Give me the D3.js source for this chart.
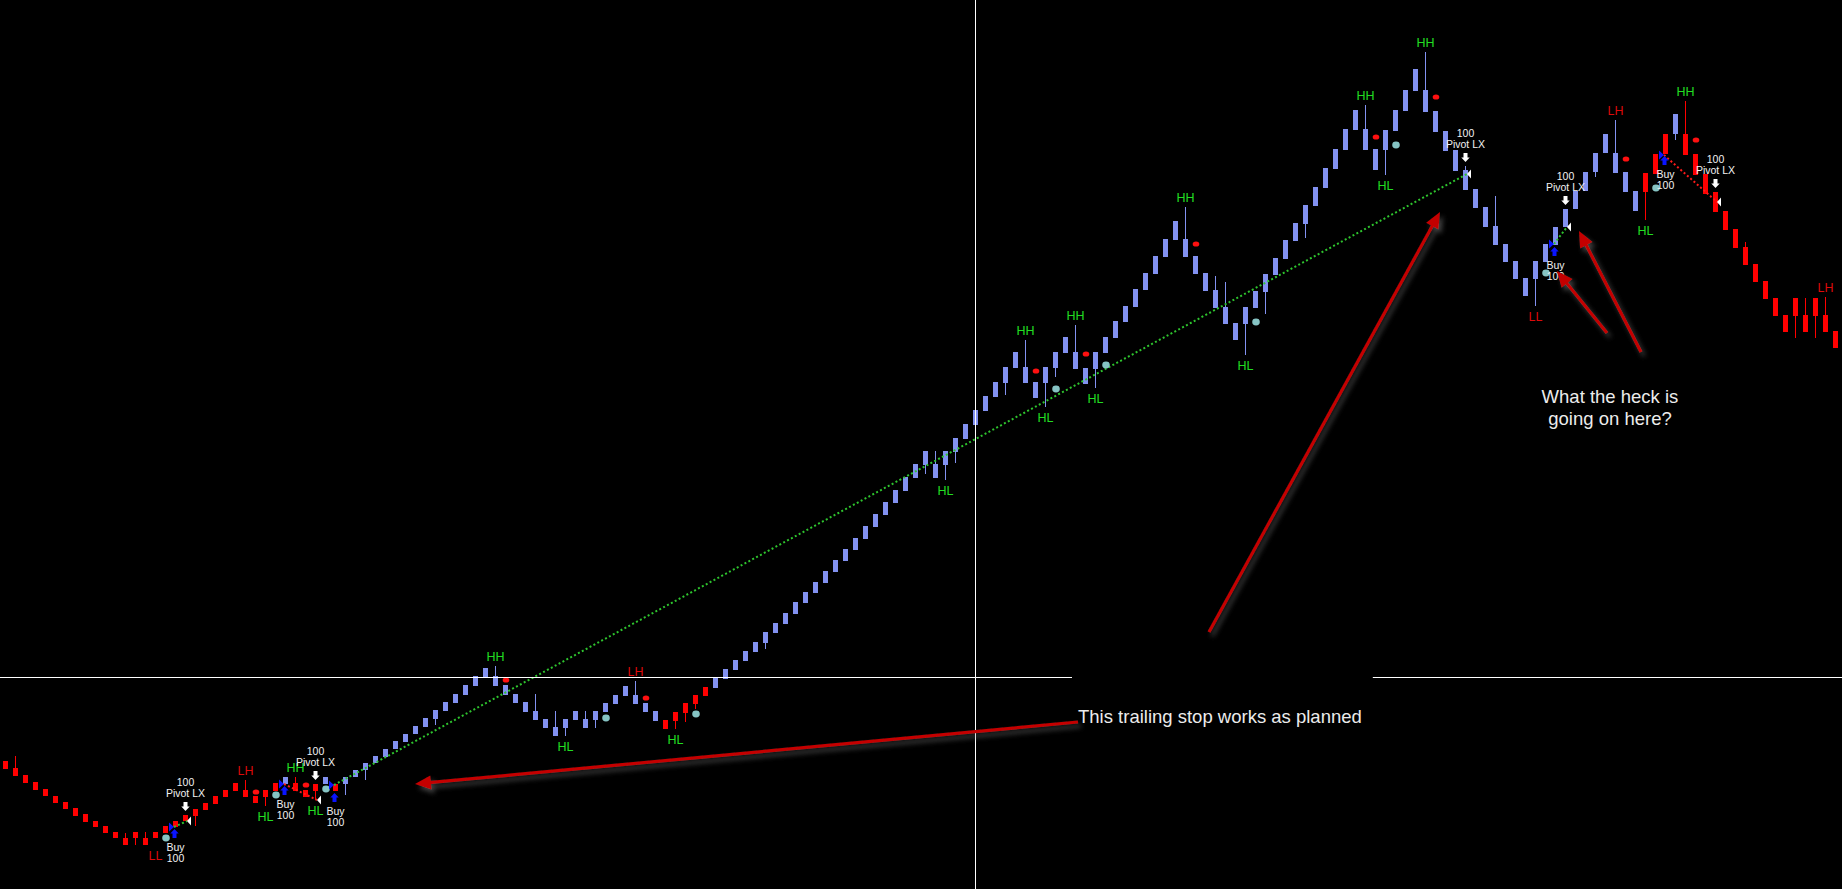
<!DOCTYPE html>
<html><head><meta charset="utf-8">
<script src="https://cdn.jsdelivr.net/npm/d3@7"></script>
<style>
html,body{margin:0;padding:0;background:#000;overflow:hidden}
svg{display:block}
text{font-family:"Liberation Sans",Arial,sans-serif}
</style></head><body>
<svg id="chart" width="1842" height="889"></svg>
<script>
// ---------------- DATA (price units) ----------------
const bodyTop = [239,232,225,218,211,204,198,192,186,179,
174,168,162,168,162,168,174,179,185,191,
197,204,210,217,210,204,210,217,223,217,
210,216,223,216,223,230,237,244,251,259,
266,274,282,290,298,306,315,324,332,324,
315,306,298,289,281,273,281,289,281,289,
297,305,314,305,297,289,280,288,297,305,
313,322,331,340,349,358,368,377,387,398,
408,418,429,440,451,462,474,486,498,510,
523,536,549,536,549,562,576,590,604,618,
633,648,633,618,633,648,663,648,632,648,
663,679,694,711,727,744,761,779,761,744,
727,710,693,677,693,709,726,742,760,777,
795,813,832,851,871,890,871,851,870,890,
910,931,910,889,869,850,830,811,793,774,
756,739,722,739,756,773,791,809,828,847,
866,847,828,809,827,846,866,886,866,846,
826,808,789,771,753,736,719,702,685,702,
685,702,685,669];
const bodyBottom = [231,224,217,210,204,197,191,184,178,173,
167,162,155,162,155,162,167,173,179,184,
190,196,203,209,203,197,203,209,216,209,
203,209,216,209,216,223,230,237,243,251,
258,266,273,281,289,297,305,314,323,314,
305,297,288,280,272,264,272,280,272,280,
288,296,304,296,288,279,271,279,287,296,
304,312,321,330,339,348,357,367,376,386,
397,407,417,428,439,450,461,473,485,497,
509,522,535,522,535,548,561,575,589,603,
617,632,617,602,617,632,647,631,616,631,
647,662,678,693,710,726,743,760,743,726,
709,692,676,660,676,692,708,725,741,759,
776,794,812,831,850,870,850,830,850,869,
889,909,888,868,849,829,810,792,773,755,
738,721,704,721,738,755,773,791,809,828,
847,827,808,789,808,826,846,866,845,825,
806,788,770,752,735,718,701,684,668,684,
668,684,668,652];
// upper wicks [bar, high], lower wicks [bar, low]
const upperWicks = [[1,244],[12,167],[14,168],[24,220],[29,223],[49,334],[53,306],[55,289],[58,289],[63,319],
[93,549],[102,660],[107,675],[118,793],[121,724],[122,718],[136,895],[142,948],[146,834],[149,804],
[161,880],[168,899],[174,758],[180,702],[182,703]];
const lowerWicks = [[13,155],[19,174],[26,194],[31,200],[34,205],[36,220],[43,275],[56,264],[59,272],[67,271],
[68,278],[69,291],[76,351],[92,526],[94,520],[95,537],[100,605],[104,593],[105,623],[109,612],
[124,645],[126,686],[130,762],[138,825],[153,694],[159,823],[164,780],[167,860],[179,662],[181,662]];
// trend state runs (colour of bars)
const trendRuns = [["down",28],["up",1],["down",3],["up",1],["down",1],["up",32],["down",5],["up",93],["down",3],["up",1],["down",16]];
// swing labels [bar, text, pivot price]
const swingLabels = [[15,"LL",155],[24,"LH",220],[26,"HL",194],[29,"HH",223],[31,"HL",200],[49,"HH",334],[56,"HL",264],
[63,"LH",319],[67,"HL",271],[94,"HL",520],[102,"HH",660],[104,"HL",593],[107,"HH",675],[109,"HL",612],
[118,"HH",793],[124,"HL",645],[136,"HH",895],[138,"HL",825],[142,"HH",948],[153,"LL",694],[161,"LH",880],
[164,"HL",780],[168,"HH",899],[182,"LH",703]];
// pivot dots
const pivotHighDots = [[25,208],[30,215],[50,320],[64,302],[103,629],[108,646],[119,756],[137,863],[143,903],[162,841],[169,860]];
const pivotLowDots = [[16,162],[27,205],[32,211],[60,282],[69,286],[105,611],[110,635],[125,678],[139,855],[154,727],[165,812]];
// trades: entry [bar, price], exit [bar, price]
const entries = [[17,173],[28,216],[33,215],[155,756],[166,845]];
const exits = [[18,179],[31,200],[146,826],[156,773],[171,798]];
const entryLabel = ["Buy","100"];
const exitLabel = ["100","Pivot LX"];
// crosshair (bar, price)
const crossBar = 96.95, crossPrice = 323;
// annotations (bar, price)
const annotArrows = [
  {from:[107.25,278], to:[40.95,216]},
  {from:[120.35,368], to:[143.45,788]},
  {from:[160.15,667], to:[155.15,729]},
  {from:[163.55,648], to:[157.35,769]}
];
const annotTexts = [
  {bar:107.25, price:277, lines:["This trailing stop works as planned"], anchor:"start", box:true},
  {bar:160.45, price:597, lines:["What the heck is","going on here?"], anchor:"middle", box:false}
];

// ---------------- DRAW ----------------
const W = 1842, H = 889;
const svg = d3.select("#chart");
svg.append("rect").attr("width", W).attr("height", H).attr("fill", "#000");

const x = d3.scaleLinear().domain([0, 183]).range([5.5, 1835.5]);
const y = d3.scaleLinear().domain([111, 1000]).range([889, 0]);

const trend = [];
trendRuns.forEach(([t, n]) => { for (let k = 0; k < n; k++) trend.push(t); });
const upMap = new Map(upperWicks), loMap = new Map(lowerWicks);
const bars = bodyTop.map((t, i) => ({
  i, top: t, bot: bodyBottom[i],
  hi: upMap.has(i) ? upMap.get(i) : t,
  lo: loMap.has(i) ? loMap.get(i) : bodyBottom[i],
  trend: trend[i]
}));
const colUp = "#8291f0", colDown = "#ff0000";
const col = d => d.trend === "up" ? colUp : colDown;

const defs = svg.append("defs");
const f = defs.append("filter").attr("id", "shadow").attr("x", "-20%").attr("y", "-20%").attr("width", "140%").attr("height", "140%");
f.append("feDropShadow").attr("dx", 3).attr("dy", 4).attr("stdDeviation", 2.5).attr("flood-color", "#777").attr("flood-opacity", 0.55);

const gBars = svg.append("g");
gBars.selectAll("line.wick").data(bars.filter(d => d.hi !== d.top || d.lo !== d.bot)).join("line")
  .attr("class", "wick")
  .attr("x1", d => x(d.i)).attr("x2", d => x(d.i))
  .attr("y1", d => y(d.hi)).attr("y2", d => y(d.lo))
  .attr("stroke", col).attr("stroke-width", 1);
gBars.selectAll("rect.body").data(bars).join("rect")
  .attr("class", "body")
  .attr("x", d => x(d.i) - 2.5).attr("width", 5)
  .attr("y", d => y(d.top)).attr("height", d => y(d.bot) - y(d.top))
  .attr("fill", col);

// trade lines
const gTrades = svg.append("g");
entries.forEach((e, k) => {
  const ex = exits[k];
  const win = ex[1] > e[1];
  gTrades.append("line")
    .attr("x1", x(e[0]) - 1.5).attr("y1", y(e[1]))
    .attr("x2", x(ex[0]) + 1.5).attr("y2", y(ex[1]))
    .attr("stroke", win ? "#2ec42e" : "#ff1a1a")
    .attr("stroke-width", 2).attr("stroke-dasharray", "2 2.4");
});

// pivot dots
svg.append("g").selectAll("ellipse").data(pivotHighDots).join("ellipse")
  .attr("cx", d => x(d[0]) + 0.5).attr("cy", d => y(d[1]))
  .attr("rx", 3.3).attr("ry", 2.6).attr("fill", "#ff1010");
svg.append("g").selectAll("ellipse").data(pivotLowDots).join("ellipse")
  .attr("cx", d => x(d[0]) + 0.5).attr("cy", d => y(d[1]))
  .attr("rx", 3.8).attr("ry", 3.4).attr("fill", "#86c4c4");

// swing labels
svg.append("g").selectAll("text").data(swingLabels).join("text")
  .attr("x", d => x(d[0])).attr("y", d => y(d[2]) + (d[1][1] === "H" ? -10 : 10))
  .attr("dy", "0.36em").attr("text-anchor", "middle")
  .attr("font-size", 12.5)
  .attr("fill", d => (d[1] === "HH" || d[1] === "HL") ? "#22dd22" : "#dd0a0a")
  .text(d => d[1]);

// entries
const gM = svg.append("g");
entries.forEach(e => {
  const b = bars[e[0]];
  const cx = x(e[0]), py = y(e[1]);
  gM.append("path").attr("d", `M${cx-6.5},${py-4.5}L${cx-1.5},${py}L${cx-6.5},${py+4.5}Z`).attr("fill", "#0a14ff");
  const top = y(b.lo) + 2, ax = cx - 1;
  gM.append("path").attr("d",
    `M${ax},${top}L${ax+4.2},${top+4.5}L${ax+2},${top+4.5}L${ax+2},${top+9}L${ax-2},${top+9}L${ax-2},${top+4.5}L${ax-4.2},${top+4.5}Z`)
    .attr("fill", "#0a14ff");
  entryLabel.forEach((t, k) => {
    gM.append("text").attr("x", cx).attr("y", y(b.lo) + 20 + k * 11.5).attr("dy", "0.36em")
      .attr("text-anchor", "middle").attr("font-size", 10.5).attr("fill", "#f2f2f2").text(t);
  });
});
// exits
exits.forEach(e => {
  const b = bars[e[0]];
  const cx = x(e[0]), py = y(e[1]);
  gM.append("path").attr("d", `M${cx+1.5},${py}L${cx+5.5},${py-4.5}L${cx+5.5},${py+4.5}Z`).attr("fill", "#ffffff");
  const bot = y(b.hi) - 4;
  gM.append("path").attr("d",
    `M${cx},${bot}L${cx+4.2},${bot-4.5}L${cx+2},${bot-4.5}L${cx+2},${bot-9}L${cx-2},${bot-9}L${cx-2},${bot-4.5}L${cx-4.2},${bot-4.5}Z`)
    .attr("fill", "#ffffff");
  exitLabel.forEach((t, k) => {
    gM.append("text").attr("x", cx).attr("y", y(b.hi) - 33 + k * 11).attr("dy", "0.36em")
      .attr("text-anchor", "middle").attr("font-size", 10.5).attr("fill", "#f2f2f2").text(t);
  });
});

// crosshair
svg.append("line").attr("x1", 0).attr("x2", W).attr("y1", Math.round(y(crossPrice)) + 0.5).attr("y2", Math.round(y(crossPrice)) + 0.5)
  .attr("stroke", "#ffffff").attr("stroke-width", 1);
svg.append("line").attr("y1", 0).attr("y2", H).attr("x1", Math.round(x(crossBar)) + 0.5).attr("x2", Math.round(x(crossBar)) + 0.5)
  .attr("stroke", "#ffffff").attr("stroke-width", 1);

// annotation texts
annotTexts.forEach(a => {
  const g = svg.append("g");
  const boxRect = g.append("rect").attr("fill", "#000");
  const t = g.append("text").attr("x", x(a.bar)).attr("y", y(a.price))
    .attr("text-anchor", a.anchor).attr("font-size", 18.5).attr("fill", "#ececec");
  a.lines.forEach((ln, k) => t.append("tspan").attr("x", x(a.bar)).attr("dy", k === 0 ? 0 : 22).text(ln));
  if (a.box) {
    const bb = t.node().getBBox();
    boxRect.attr("x", bb.x - 6).attr("y", bb.y - 38).attr("width", bb.width + 17).attr("height", bb.height + 50);
  }
});

// annotation arrows
const gA = svg.append("g").attr("filter", "url(#shadow)");
annotArrows.forEach(a => {
  const x0 = x(a.from[0]), y0 = y(a.from[1]), x1 = x(a.to[0]), y1 = y(a.to[1]);
  const dx = x1 - x0, dy = y1 - y0, len = Math.hypot(dx, dy);
  const ux = dx / len, uy = dy / len, nx = -uy, ny = ux;
  const L = 16, hw = 7;
  const bx = x1 - ux * L, by = y1 - uy * L;
  gA.append("line").attr("x1", x0).attr("y1", y0).attr("x2", bx + ux * 2).attr("y2", by + uy * 2)
    .attr("stroke", "#c40000").attr("stroke-width", 3.2);
  gA.append("path").attr("d", `M${x1},${y1}L${bx + nx * hw},${by + ny * hw}L${bx - nx * hw},${by - ny * hw}Z`)
    .attr("fill", "#c40000");
});
</script>
</body></html>
